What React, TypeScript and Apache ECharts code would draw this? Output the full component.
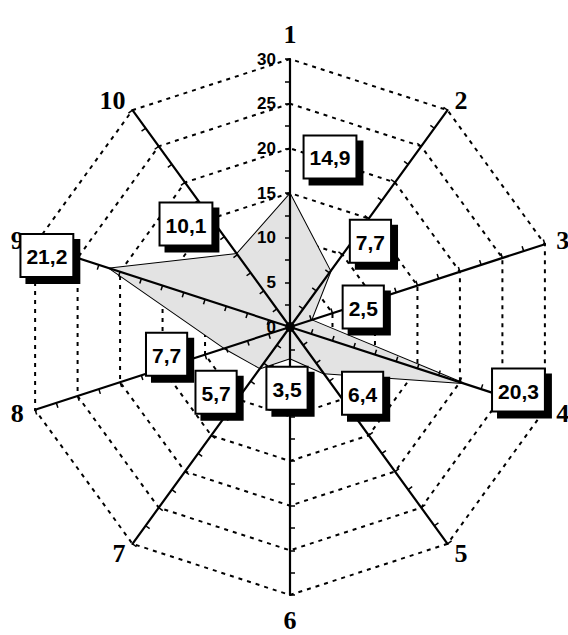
import React, { useEffect, useRef } from 'react';
import * as echarts from 'echarts';

// ---- data ----
const categories = ['1', '2', '3', '4', '5', '6', '7', '8', '9', '10'];
const values = [14.9, 7.7, 2.5, 20.3, 6.4, 3.5, 5.7, 7.7, 21.2, 10.1];
const axisMin = 0;
const axisMax = 30;
const axisSplits = 6;

// ---- label placement (style only) ----
const labelOffsets: number[][] = [
  [40, -37], [40, -30], [52, -13], [56, 7], [39, 20],
  [-3, 30], [-44, 24], [-58, 6], [-63, -13], [-51, -30],
];

// ECharts radar runs counter-clockwise; reference runs clockwise
const order = categories.map((_, i) => (i === 0 ? 0 : categories.length - i));
const reorder = <T,>(arr: T[]): T[] => order.map((i) => arr[i]);

const fmt = (v: number) => String(v).replace('.', ',');

export default function App() {
  const ref = useRef<HTMLDivElement>(null);
  useEffect(() => {
    if (!ref.current) return;
    const chart = echarts.init(ref.current, undefined, { renderer: 'svg' });
    const center = [290, 327];
    const radius = 268;

    const indicatorsBase = reorder(categories).map((name) => ({ name, min: axisMin, max: axisMax }));

    const radarSplit = {
      center, radius, startAngle: 90, splitNumber: axisSplits, shape: 'polygon', z: 0,
      indicator: indicatorsBase,
      axisName: { show: false },
      axisLine: { show: false },
      axisTick: { show: false },
      axisLabel: { show: false },
      splitArea: { show: false },
      splitLine: { show: true, lineStyle: { color: '#000', width: 2, type: [4, 5] } },
    };

    const radarAxes = {
      center, radius, startAngle: 90, splitNumber: axisSplits, shape: 'polygon', z: 3,
      nameGap: 12,
      indicator: indicatorsBase.map((ind, i) => ({
        ...ind,
        minorTick: { show: true, splitNumber: 2, length: 5, lineStyle: { color: '#000', width: 1.5 } },
        axisLabel: i === 0
          ? { show: true, color: '#000', fontSize: 17, fontWeight: 'bold', fontFamily: 'Liberation Sans', margin: 14 }
          : { show: false },
      })),
      axisName: { color: '#000', fontFamily: 'Liberation Serif', fontWeight: 'bold', fontSize: 26 },
      axisLine: { show: true, lineStyle: { color: '#000', width: 2.2 } },
      axisTick: { show: true, length: 5, lineStyle: { color: '#000', width: 1.5 } },
      axisLabel: { show: false },
      splitArea: { show: false },
      splitLine: { show: false },
    };

    const labelSeries = values.map((v, k) => ({
      type: 'radar',
      radarIndex: 1,
      z: 6,
      symbol: 'circle',
      symbolSize: 2,
      silent: true,
      itemStyle: { color: 'rgba(0,0,0,0)' },
      lineStyle: { width: 0, color: 'rgba(0,0,0,0)' },
      data: [{ value: reorder(values.map((x, j) => (j === k ? x : 0))) }],
      label: {
        show: true,
        position: 'inside',
        offset: labelOffsets[k],
        formatter: (p: any) => (p.value === 0 ? '' : `{b|${fmt(p.value)}}`),
        rich: {
          b: {
            fontSize: 21,
            fontWeight: 'bold',
            fontFamily: 'Liberation Sans',
            color: '#000',
            lineHeight: 22,
            backgroundColor: '#fff',
            borderColor: '#000',
            borderWidth: 2,
            padding: [11, 5, 9, 5],
            shadowColor: '#000',
            shadowBlur: 0,
            shadowOffsetX: 6,
            shadowOffsetY: 6,
          },
        },
      },
    }));

    chart.setOption({
      animation: false,
      backgroundColor: '#fff',
      radar: [radarSplit, radarAxes],
      series: [
        {
          type: 'radar',
          radarIndex: 1,
          z: 2,
          symbol: 'none',
          silent: true,
          lineStyle: { color: '#000', width: 2 },
          areaStyle: { color: '#e3e3e3', opacity: 1 },
          data: [{ value: reorder(values) }],
        },
        ...labelSeries,
      ],
    });
    return () => chart.dispose();
  }, []);
  return (
    <div
      ref={ref}
      style={{ position: 'absolute', left: 0, top: 0, width: 568, height: 635 }}
    />
  );
}
